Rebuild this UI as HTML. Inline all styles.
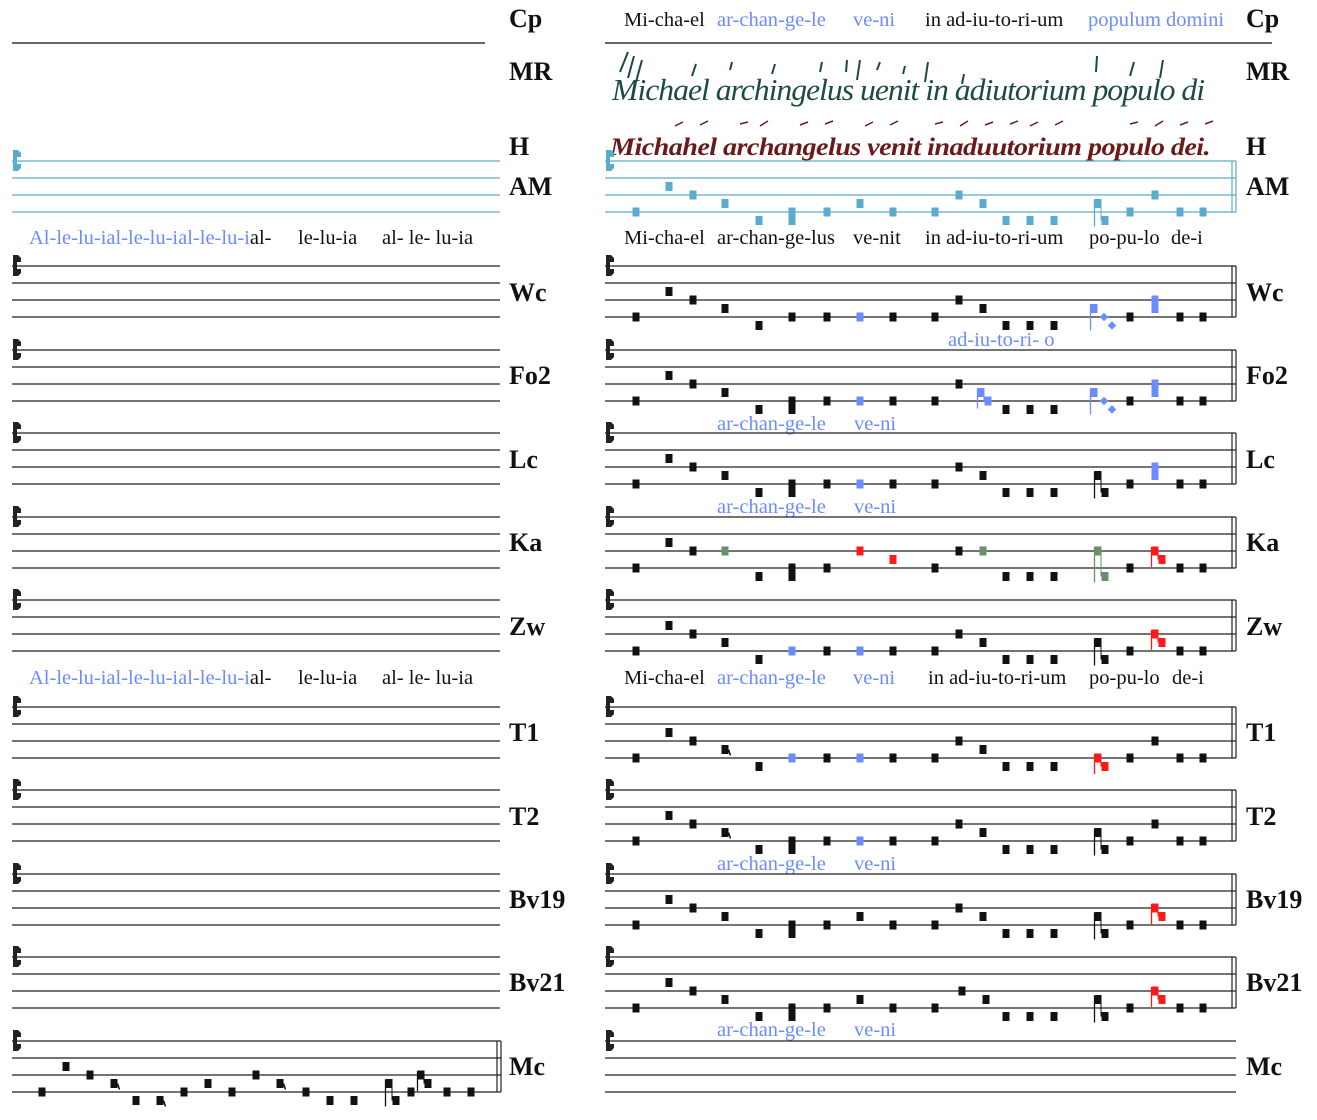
<!DOCTYPE html>
<html><head><meta charset="utf-8"><style>
html,body{margin:0;padding:0;background:#fff;}
svg{display:block;}
text{font-family:"Liberation Serif",serif;}
.l{font-size:20.5px;fill:#111;}
.b{fill:#6b8cff;}
.lab{font-size:26px;font-weight:bold;fill:#111;}
</style></head><body>
<svg id="s" width="1317" height="1120" viewBox="0 0 1317 1120" xmlns="http://www.w3.org/2000/svg">
<line x1="12" y1="43" x2="485" y2="43" stroke="#333" stroke-width="1.5"/>
<line x1="605" y1="43" x2="1272" y2="43" stroke="#333" stroke-width="1.5"/>
<text class="l" y="26"><tspan x="624">Mi-cha-el</tspan><tspan x="717" class="b">ar-chan-ge-le</tspan><tspan x="853" class="b">ve-ni</tspan><tspan x="925">in ad-iu-to-ri-um</tspan><tspan x="1088" class="b">populum domini</tspan></text>
<text x="612" y="100" style="font-size:31px;font-style:italic;fill:#1d4a45;letter-spacing:-1px" textLength="592" lengthAdjust="spacingAndGlyphs">Michael archingelus uenit in adiutorium populo di</text>
<text x="610" y="155" style="font-size:25px;font-style:italic;font-weight:bold;fill:#6a1a1a;letter-spacing:-0.5px" textLength="600" lengthAdjust="spacingAndGlyphs">Michahel archangelus venit inaduutorium populo dei.</text>
<text class="l" y="244"><tspan x="29" class="b">Al-le-lu-ial-le-lu-ial-le-lu-i</tspan><tspan>al-</tspan><tspan x="298">le-lu-ia</tspan><tspan x="382">al- le- lu-ia</tspan><tspan x="624">Mi-cha-el</tspan><tspan x="717">ar-chan-ge-lus</tspan><tspan x="853">ve-nit</tspan><tspan x="925">in ad-iu-to-ri-um</tspan><tspan x="1089">po-pu-lo</tspan><tspan x="1171">de-i</tspan></text>
<text class="l b" x="948" y="346">ad-iu-to-ri- o</text>
<text class="l" y="684"><tspan x="29" class="b">Al-le-lu-ial-le-lu-ial-le-lu-i</tspan><tspan>al-</tspan><tspan x="298">le-lu-ia</tspan><tspan x="382">al- le- lu-ia</tspan><tspan x="624">Mi-cha-el</tspan><tspan x="717" class="b">ar-chan-ge-le</tspan><tspan x="853" class="b">ve-ni</tspan><tspan x="928">in ad-iu-to-ri-um</tspan><tspan x="1089">po-pu-lo</tspan><tspan x="1172">de-i</tspan></text>
<g id="g"></g>
</svg>
<script>
var o='';
var BL='#6b8cff',RD='#ff1a1a',GR='#6b8f6b',AMC='#5aaccc';
function lab(t,y){o+='<text class="lab" x="509" y="'+y+'">'+t+'</text><text class="lab" x="1246" y="'+y+'">'+t+'</text>';}
lab('Cp',27);lab('MR',80);lab('H',155);lab('AM',195);
[['Wc',301],['Fo2',384],['Lc',468],['Ka',551],['Zw',635],['T1',741],['T2',825],['Bv19',908],['Bv21',991],['Mc',1075]].forEach(function(a){lab(a[0],a[1]);});
[430,513,870,1036].forEach(function(y){o+='<text class="l b" x="717" y="'+y+'">ar-chan-ge-le</text><text class="l b" x="854" y="'+y+'">ve-ni</text>';});
[[620,72,628,52],[628,78,634,56],[636,82,642,60],[692,76,696,64],[730,70,732,62],[772,74,775,64],[820,72,822,62],[846,72,847,60],[857,80,860,60],[877,70,880,62],[903,74,905,66],[925,82,928,62],[962,84,964,74],[1096,72,1097,56],[1130,76,1134,62],[1160,78,1163,60]].forEach(function(t){o+='<line x1="'+t[0]+'" y1="'+t[1]+'" x2="'+t[2]+'" y2="'+t[3]+'" stroke="#1d4a45" stroke-width="2"/>';});
[675,700,740,760,800,825,865,890,935,960,985,1010,1030,1055,1130,1155,1180,1205].forEach(function(x,i){o+='<line x1="'+x+'" y1="'+(126-(i%3))+'" x2="'+(x+8)+'" y2="'+(122-(i%2))+'" stroke="#6a1a1a" stroke-width="1.5"/>';});
function staff(x1,x2,top,col,bar){
 for(var i=0;i<4;i++){var y=top+i*17;o+='<line x1="'+x1+'" y1="'+y+'" x2="'+x2+'" y2="'+y+'" stroke="'+col+'" stroke-width="1.2"/>';}
 if(bar){o+='<line x1="'+(x2-4)+'" y1="'+top+'" x2="'+(x2-4)+'" y2="'+(top+51)+'" stroke="'+col+'" stroke-width="1.2"/><line x1="'+x2+'" y1="'+top+'" x2="'+x2+'" y2="'+(top+51)+'" stroke="'+col+'" stroke-width="1.2"/>';}
 o+='<path d="M'+(x1+1)+' '+(top-11)+'h5l3 3v4h-4v7h4v4l-3 3h-5z" fill="'+col+'"/>';
}
function Y(top,p){return top+51-p*8.5;}
function sq(x,y,c){o+='<rect x="'+(x-3.5)+'" y="'+(y-4.5)+'" width="7" height="9" fill="'+c+'"/>';}
function draw(top,list,dc){
 list.forEach(function(n){
  var x=n[0],c=n[2]||dc,k=n[3];
  if(k=='st'){var y1=Y(top,n[1]),y2=Y(top,n[4]);sq(x,y1,c);sq(x+7,y2,c);o+='<line x1="'+(x-3.5)+'" y1="'+(y1-4)+'" x2="'+(x-3.5)+'" y2="'+Math.max(y2+6,y1+16)+'" stroke="'+c+'" stroke-width="1.3"/><line x1="'+(x+3)+'" y1="'+y1+'" x2="'+(x+3)+'" y2="'+y2+'" stroke="'+c+'" stroke-width="1"/>';}
  else if(k=='dm'){var y1=Y(top,n[1]);sq(x,y1,c);o+='<line x1="'+(x-3.5)+'" y1="'+(y1-4)+'" x2="'+(x-3.5)+'" y2="'+(y1+22)+'" stroke="'+c+'" stroke-width="1.3"/>';
    [[x+10,Y(top,0)],[x+18,Y(top,-1)]].forEach(function(d){o+='<rect x="'+(d[0]-3)+'" y="'+(d[1]-3)+'" width="6" height="6" fill="'+c+'" transform="rotate(45 '+d[0]+' '+d[1]+')"/>';});}
  else if(k=='sk'){sq(x,Y(top,n[1]),c);sq(x,Y(top,n[4]),c);}
  else if(k=='fl'){var y=Y(top,n[1]);sq(x,y,c);o+='<path d="M'+(x+3.5)+' '+y+'l2 6" stroke="'+c+'" stroke-width="1.5"/>';}
  else sq(x,Y(top,n[1]),c);
 });
}
function base(ov){
 var b={636:[636,0],669:[669,3],693:[693,2],725:[725,1],759:[759,-1],792:[792,0,0,'sk',-1],827:[827,0],860:[860,0],893:[893,0],935:[935,0],959:[959,2],983:[983,1],1006:[1006,-1],1030:[1030,-1],1054:[1054,-1],1098:[1098,1,0,'st',-1],1130:[1130,0],1155:[1155,2],1180:[1180,0],1203:[1203,0]};
 for(var k in ov){b[k]=ov[k];}
 var r=[];for(var k in b){if(b[k])r.push(b[k]);}return r;
}
staff(605,1236,161,AMC,true);
draw(161,base({860:[860,1]}),AMC);
var tops=[266,350,433,517,600,707,790,874,957];
tops.forEach(function(t){staff(12,500,t,'#222',false);});
staff(12,500,161,AMC,false);
staff(12,501,1041,'#222',true);
draw(1041,[[42,0],[66,3],[90,2],[114,1,0,'fl'],[136,-1],[160,-1,0,'fl'],[184,0],[208,1],[232,0],[256,2],[280,1,0,'fl'],[306,0],[330,-1],[354,-1],[389,1,0,'st',-1],[411,0],[421,2,0,'st',1],[447,0],[471,0]],'#111');
staff(605,1236,266,'#222',true);
draw(266,base({792:[792,0],860:[860,0,BL],1098:null,1094:[1094,1,BL,'dm'],1155:[1155,2,BL,'sk',1]}),'#111');
staff(605,1236,350,'#222',true);
draw(350,base({860:[860,0,BL],983:[981,1,BL,'st',0],1098:null,1094:[1094,1,BL,'dm'],1155:[1155,2,BL,'sk',1]}),'#111');
staff(605,1236,433,'#222',true);
draw(433,base({860:[860,0,BL],1155:[1155,2,BL,'sk',1]}),'#111');
staff(605,1236,517,'#222',true);
draw(517,base({725:[725,2,GR],860:[860,2,RD],893:[893,1,RD],983:[983,2,GR],1098:[1098,2,GR,'st',-1],1155:[1155,2,RD,'st',1]}),'#111');
staff(605,1236,600,'#222',true);
draw(600,base({792:[792,0,BL],860:[860,0,BL],1155:[1155,2,RD,'st',1]}),'#111');
staff(605,1236,707,'#222',true);
draw(707,base({725:[725,1,0,'fl'],792:[792,0,BL],860:[860,0,BL],1098:[1098,0,RD,'st',-1]}),'#111');
staff(605,1236,790,'#222',true);
draw(790,base({725:[725,1,0,'fl'],860:[860,0,BL]}),'#111');
staff(605,1236,874,'#222',true);
draw(874,base({860:[860,1],1155:[1155,2,RD,'st',1]}),'#111');
staff(605,1236,957,'#222',true);
draw(957,base({860:[860,1],959:[962,2],983:[986,1],1155:[1155,2,RD,'st',1]}),'#111');
staff(605,1236,1041,'#222',false);
document.getElementById('g').innerHTML=o;
</script>
</body></html>
